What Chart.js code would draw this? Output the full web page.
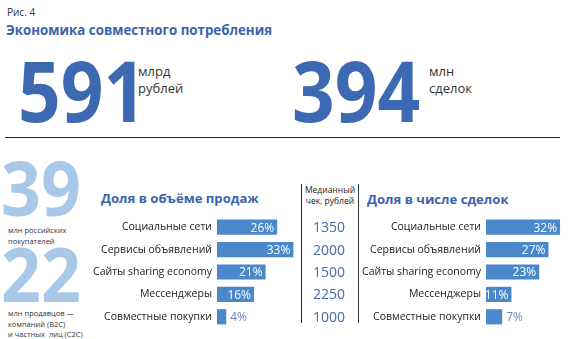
<!DOCTYPE html>
<html lang="ru">
<head>
<meta charset="utf-8">
<script src="https://cdn.jsdelivr.net/npm/chart.js@4.4.1/dist/chart.umd.min.js"></script>
<style>
  html, body { margin: 0; padding: 0; background: #fff; }
  body { width: 570px; height: 339px; position: relative; overflow: hidden; font-family: "Open Sans", sans-serif; color: #222; }
  .abs { position: absolute; white-space: nowrap; }
  .fig { left: 7px; top: 6px; font-size: 10px; line-height: 12px; color: #333; }
  .title { left: 6px; top: 21px; font-size: 13.3px; line-height: 18px; font-weight: 700; color: #3b63ab; }
  .big { font-size: 85px; line-height: 80px; font-weight: 700; color: #3d69b3; transform: scaleX(0.88); transform-origin: 0 0; }
  .unit { font-size: 13px; line-height: 17px; color: #333; }
  .rule { left: 5px; top: 137px; width: 555px; height: 0; border-top: 1.5px solid #222; }
  .mid { font-size: 76px; line-height: 76px; font-weight: 700; color: #a8c8e8; transform: scaleX(0.92); transform-origin: 0 0; }
  .note { font-size: 7.5px; line-height: 10.5px; color: #333; }
  .sub { font-size: 13.1px; line-height: 18px; font-weight: 700; color: #3b63ab; }
  .median { left: 301px; top: 184px; width: 56px; height: 139px; border-left: 1px solid #333; border-right: 1px solid #333; }
  .median div { font-size: 8.5px; line-height: 11px; text-align: center; color: #222; }
  canvas { position: absolute; }
</style>
</head>
<body>
<div class="abs fig">Рис. 4</div>
<div class="abs title">Экономика совместного потребления</div>

<div class="abs big" style="left:18px;top:49px;">591</div>
<div class="abs unit" style="left:138px;top:63px;">млрд<br>рублей</div>
<div class="abs big" style="left:292px;top:49px;">394</div>
<div class="abs unit" style="left:429px;top:63px;">млн<br>сделок</div>
<div class="abs rule"></div>

<div class="abs mid" style="left:1px;top:149px;">39</div>
<div class="abs note" style="left:8px;top:225px;">млн российских<br>покупателей</div>
<div class="abs mid" style="left:1px;top:235px;">22</div>
<div class="abs note" style="left:8px;top:308px;">млн продавцов —<br>компаний (B2C)<br>и частных&nbsp; лиц (C2C)</div>

<div class="abs sub" style="left:101px;top:189px;">Доля в объёме продаж</div>
<div class="abs sub" style="left:367px;top:190px;">Доля в числе сделок</div>
<div class="abs median"><div>Медианный<br>чек, рублей</div></div>

<canvas id="salesChart" style="left:90px;top:216px;" width="208" height="112"></canvas>
<canvas id="dealsChart" style="left:300px;top:216px;" width="267" height="112"></canvas>

<script>
const categories = ['Социальные сети', 'Сервисы объявлений', 'Сайты sharing economy', 'Мессенджеры', 'Совместные покупки'];
const salesShare = [26, 33, 21, 16, 4];
const dealsShare = [32, 27, 23, 11, 7];
const medianCheck = [1350, 2000, 1500, 2250, 1000];

const FONT = '"Open Sans", sans-serif';
const BAR = '#4a88c9';

// percent labels: inside the bar in white, or just past it when the bar is short
const barLabels = {
  id: 'barLabels',
  afterDatasetsDraw(chart) {
    const ctx = chart.ctx;
    const values = chart.data.datasets[0].data;
    ctx.save();
    ctx.font = '12px ' + FONT;
    ctx.textBaseline = 'middle';
    chart.getDatasetMeta(0).data.forEach((bar, i) => {
      const text = values[i] + '%';
      if (values[i] >= 10) {
        ctx.fillStyle = '#fff';
        ctx.textAlign = 'right';
        ctx.fillText(text, bar.x - 3, bar.y + 1);
      } else {
        ctx.fillStyle = '#6f86bf';
        ctx.textAlign = 'left';
        ctx.fillText(text, bar.x + 4, bar.y + 1);
      }
    });
    ctx.restore();
  }
};

// median check column, one value per category row
const medianColumn = {
  id: 'medianColumn',
  afterDraw(chart) {
    const ctx = chart.ctx;
    const y = chart.scales.y;
    ctx.save();
    ctx.font = '14px ' + FONT;
    ctx.fillStyle = '#4a6bab';
    ctx.textAlign = 'center';
    ctx.textBaseline = 'middle';
    medianCheck.forEach((v, i) => ctx.fillText(String(v), 29, y.getPixelForValue(i) + 1));
    ctx.restore();
  }
};

function makeChart(id, values, axisWidth, extra) {
  return new Chart(document.getElementById(id), {
    type: 'bar',
    data: {
      labels: categories,
      datasets: [{ data: values, backgroundColor: BAR, barPercentage: 0.68, categoryPercentage: 1 }]
    },
    options: {
      indexAxis: 'y',
      responsive: false,
      animation: false,
      layout: { padding: 0 },
      plugins: { legend: { display: false }, tooltip: { enabled: false } },
      scales: {
        x: { display: false, min: 0, max: 35 },
        y: {
          afterFit(scale) {
            scale.width = axisWidth;
            scale.paddingTop = 0;
            scale.paddingBottom = 0;
          },
          grid: { display: false, drawTicks: false },
          border: { display: false },
          ticks: { padding: 5, color: '#222', font: { family: FONT, size: 10.5 } }
        }
      }
    },
    plugins: [barLabels].concat(extra)
  });
}

makeChart('salesChart', salesShare, 127, []);
makeChart('dealsChart', dealsShare, 186, [medianColumn]);
</script>
</body>
</html>
